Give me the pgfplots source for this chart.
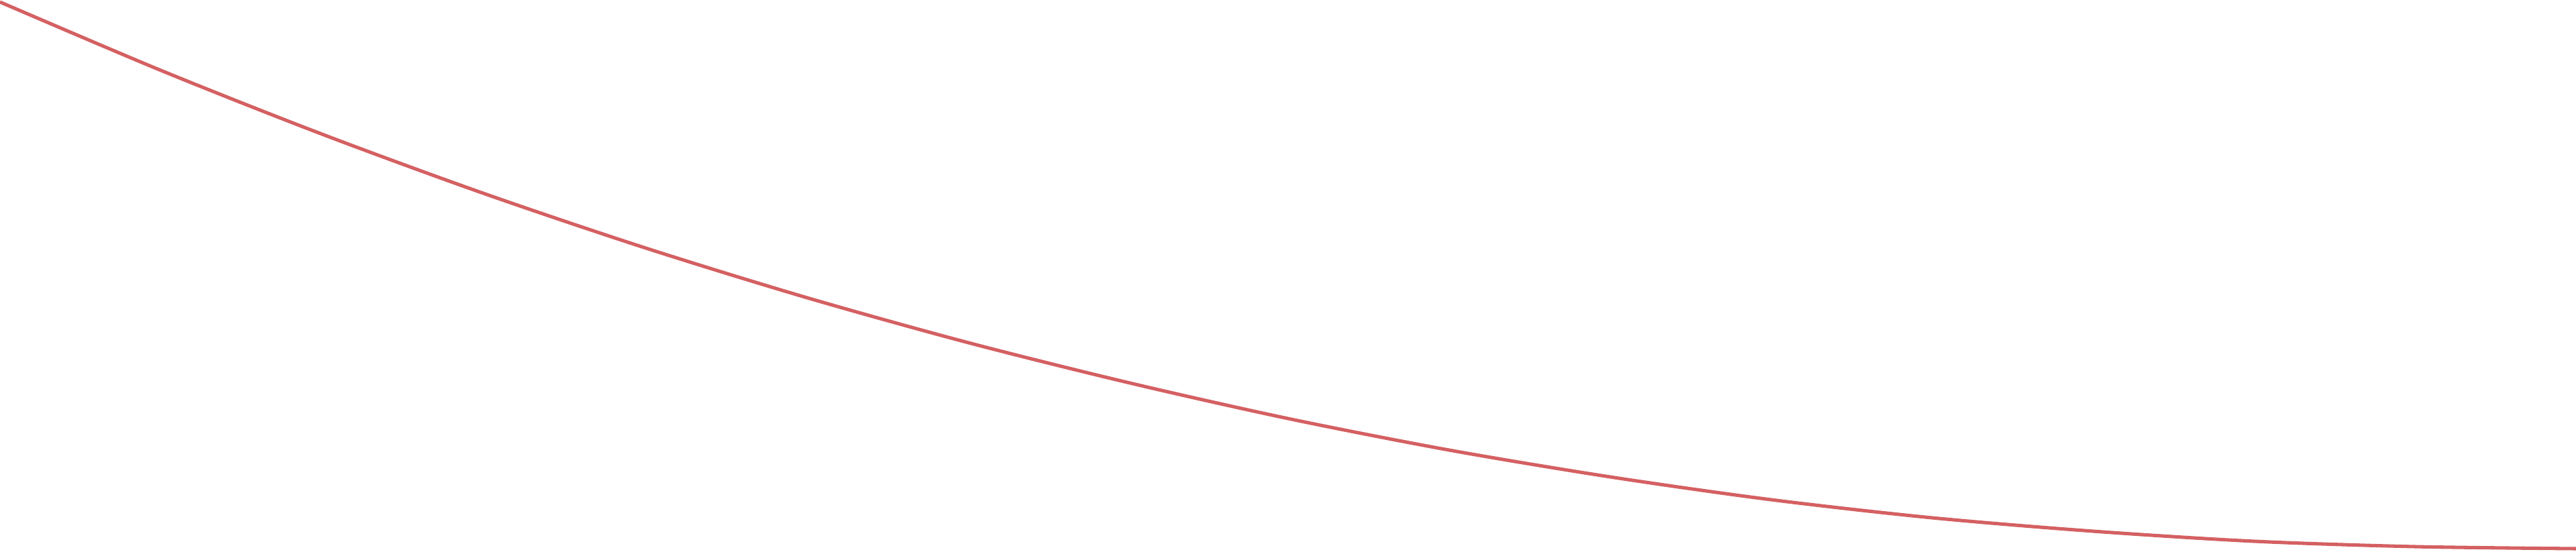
\documentclass[border=0pt]{standalone}
\usepackage{pgfplots}
\pgfplotsset{compat=1.18}
\definecolor{curvered}{RGB}{212,96,98}

\begin{document}
\begin{tikzpicture}
  \begin{axis}[
    hide axis,
    scale only axis,
    width=40cm, height=8.5625cm,
    xmin=0, xmax=3840,
    ymin=0, ymax=822,
    clip=true]
    % height of the curve above the bottom edge
    \addplot[curvered, line width=1.5pt, smooth, no marks] coordinates {
      (0,819) (240,717) (480,622) (720,534) (960,453)
      (1200,379) (1440,312) (1680,252) (1920,198) (2160,151)
      (2400,111) (2640,77) (2880,50) (3120,30) (3360,15)
      (3600,7) (3840,4)
    };
  \end{axis}
  \pgfresetboundingbox
  \path (current axis.south west) rectangle (current axis.north east);
\end{tikzpicture}
\end{document}
